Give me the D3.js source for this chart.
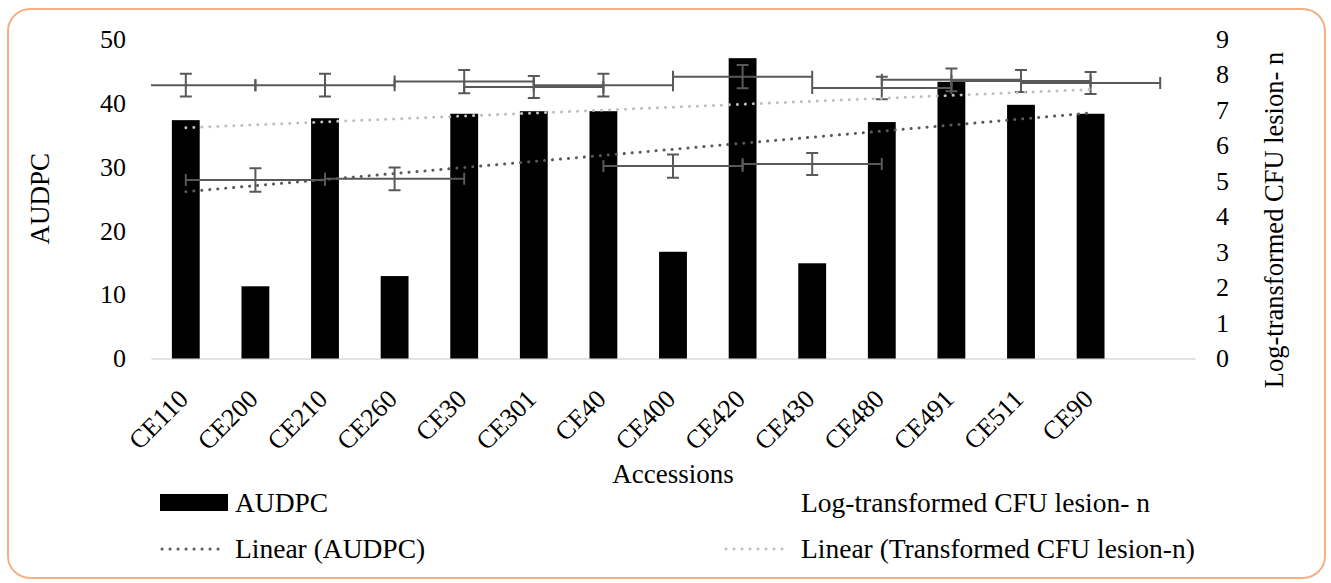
<!DOCTYPE html>
<html lang="en">
<head>
    <meta charset="UTF-8">
    <title>AUDPC vs CFU</title>
    <script src="https://cdn.jsdelivr.net/npm/d3@7"></script>
    <style>
        body{
            margin: 0;
            background-color: white;
        }
        text{
            font-family: "Liberation Serif", serif;
            fill: #000;
        }
        .axis text{
            font-size: 26px;
        }
        .title{
            font-size: 27px;
        }
        .legend text{
            font-size: 27.5px;
        }
        .errbar line{
            stroke: #595959;
            stroke-width: 2px;
        }
    </style>
</head>
<body>
<svg id="canvas" width="1331" height="583"></svg>
<script>
    // values
    const categories = ["CE110", "CE200", "CE210", "CE260", "CE30", "CE301", "CE40", "CE400", "CE420", "CE430", "CE480", "CE491", "CE511", "CE90"];
    const audpc = [37.3, 11.3, 37.6, 12.9, 38.3, 38.7, 38.7, 16.7, 47.0, 14.9, 37.0, 43.3, 39.7, 38.3];
    const cfuLog = [7.70, 5.03, 7.70, 5.06, 7.80, 7.65, 7.70, 5.42, 7.94, 5.48, 7.62, 7.85, 7.82, 7.76];
    const cfuErr = [0.32, 0.33, 0.32, 0.32, 0.33, 0.31, 0.32, 0.33, 0.33, 0.31, 0.32, 0.32, 0.31, 0.31];
    const cfuXErr = 1;   // horizontal error bars, one category each way
    const audpcTicks = [0, 10, 20, 30, 40, 50];
    const cfuTicks = [0, 1, 2, 3, 4, 5, 6, 7, 8, 9];

    let svg = d3.select('svg');

    // frame
    svg.append('rect')
        .attr('x', 8).attr('y', 9)
        .attr('width', 1317).attr('height', 569)
        .attr('rx', 22)
        .attr('fill', 'white')
        .attr('stroke', '#f4b183')
        .attr('stroke-width', 2);

    const pLeft = 151, pRight = 1195, pTop = 39, pBottom = 358.5;

    // an empty slot is kept at the end, like the original
    const slots = categories.concat([""]);
    const x = d3.scaleBand().domain(slots).range([pLeft, pRight]).paddingInner(0.6).paddingOuter(0.3);
    const xl = d3.scaleLinear().domain([0, slots.length]).range([pLeft, pRight]);
    const yL = d3.scaleLinear().domain([0, 50]).range([pBottom, pTop]);
    const yR = d3.scaleLinear().domain([0, 9]).range([pBottom, pTop]);

    svg.append('clipPath').attr('id', 'plotclip')
        .append('rect').attr('x', pLeft).attr('y', pTop - 20).attr('width', pRight - pLeft).attr('height', pBottom - pTop + 20);

    // x axis
    let xAxis = svg.append('g').attr('class', 'axis')
        .attr('transform', `translate(0,${pBottom})`)
        .call(d3.axisBottom(x).tickSize(0).tickSizeOuter(0));
    xAxis.select('.domain').attr('stroke', '#d9d9d9').attr('stroke-width', 1.5);
    xAxis.selectAll('text')
        .attr('text-anchor', 'end')
        .attr('y', 0).attr('dy', 0)
        .attr('transform', 'translate(4,42) rotate(-45)');
    xAxis.attr('font-family', null).attr('font-size', null);

    // left axis
    let yAxisL = svg.append('g').attr('class', 'axis')
        .attr('transform', `translate(${pLeft},0)`)
        .call(d3.axisLeft(yL).tickValues(audpcTicks).tickSize(0).tickPadding(25));
    yAxisL.select('.domain').remove();
    yAxisL.attr('font-family', null).attr('font-size', null);

    // right axis
    let yAxisR = svg.append('g').attr('class', 'axis')
        .attr('transform', `translate(${pRight},0)`)
        .call(d3.axisRight(yR).tickValues(cfuTicks).tickSize(0).tickPadding(21));
    yAxisR.select('.domain').remove();
    yAxisR.attr('font-family', null).attr('font-size', null);

    // bars
    svg.append('g').selectAll('rect')
        .data(audpc)
        .enter()
        .append('rect')
        .attr('x', (d, i) => x(categories[i]))
        .attr('y', d => yL(d))
        .attr('width', x.bandwidth())
        .attr('height', d => yL(0) - yL(d))
        .attr('fill', '#000');

    // error bars of the (hidden) CFU series
    let eb = svg.append('g').attr('class', 'errbar').attr('clip-path', 'url(#plotclip)')
        .selectAll('g')
        .data(cfuLog)
        .enter()
        .append('g');
    const cx = i => xl(i + 0.5);
    eb.append('line')   // horizontal
        .attr('x1', (d, i) => xl(i + 0.5 - cfuXErr)).attr('x2', (d, i) => xl(i + 0.5 + cfuXErr))
        .attr('y1', d => yR(d)).attr('y2', d => yR(d));
    eb.append('line')
        .attr('x1', (d, i) => xl(i + 0.5 - cfuXErr)).attr('x2', (d, i) => xl(i + 0.5 - cfuXErr))
        .attr('y1', d => yR(d) - 6).attr('y2', d => yR(d) + 6);
    eb.append('line')
        .attr('x1', (d, i) => xl(i + 0.5 + cfuXErr)).attr('x2', (d, i) => xl(i + 0.5 + cfuXErr))
        .attr('y1', d => yR(d) - 6).attr('y2', d => yR(d) + 6);
    eb.append('line')   // vertical
        .attr('x1', (d, i) => cx(i)).attr('x2', (d, i) => cx(i))
        .attr('y1', (d, i) => yR(d + cfuErr[i])).attr('y2', (d, i) => yR(d - cfuErr[i]));
    eb.append('line')
        .attr('x1', (d, i) => cx(i) - 6).attr('x2', (d, i) => cx(i) + 6)
        .attr('y1', (d, i) => yR(d + cfuErr[i])).attr('y2', (d, i) => yR(d + cfuErr[i]));
    eb.append('line')
        .attr('x1', (d, i) => cx(i) - 6).attr('x2', (d, i) => cx(i) + 6)
        .attr('y1', (d, i) => yR(d - cfuErr[i])).attr('y2', (d, i) => yR(d - cfuErr[i]));

    // least squares trend
    function fit(vals){
        let n = vals.length, xs = d3.range(1, n + 1);
        let mx = d3.mean(xs), my = d3.mean(vals);
        let b = d3.sum(xs, (xv, i) => (xv - mx) * (vals[i] - my)) / d3.sum(xs, xv => (xv - mx) * (xv - mx));
        return xv => my + b * (xv - mx);
    }
    function trend(vals, yScale, color){
        let f = fit(vals);
        let ends = [1, vals.length];
        svg.append('path')
            .datum(ends)
            .attr('d', d3.line().x(k => xl(k - 0.5)).y(k => yScale(f(k))))
            .attr('fill', 'none')
            .attr('stroke', color)
            .attr('stroke-width', 3)
            .attr('stroke-linecap', 'round')
            .attr('stroke-dasharray', '0.1 7.9');
    }
    trend(audpc, yL, '#595959');
    trend(cfuLog, yR, '#bfbfbf');

    // axis titles
    svg.append('text').attr('class', 'title')
        .attr('transform', `translate(49,${(pTop + pBottom) / 2}) rotate(-90)`)
        .attr('text-anchor', 'middle')
        .text('AUDPC');
    svg.append('text').attr('class', 'title')
        .attr('transform', `translate(1283,220) rotate(-90)`)
        .attr('text-anchor', 'middle')
        .style('font-size', '26.5px')
        .text('Log-transformed CFU lesion- n');
    svg.append('text').attr('class', 'title')
        .attr('x', (pLeft + pRight) / 2).attr('y', 483)
        .attr('text-anchor', 'middle')
        .text('Accessions');

    // legend
    let lg = svg.append('g').attr('class', 'legend');
    lg.append('rect').attr('x', 160).attr('y', 494).attr('width', 68).attr('height', 17).attr('fill', '#000');
    lg.append('text').attr('x', 235).attr('y', 512).text('AUDPC');
    lg.append('text').attr('x', 801).attr('y', 512).text('Log-transformed CFU lesion- n');
    lg.append('line').attr('x1', 162).attr('x2', 226).attr('y1', 549).attr('y2', 549)
        .attr('stroke', '#595959').attr('stroke-width', 3).attr('stroke-linecap', 'round').attr('stroke-dasharray', '0.1 7.9');
    lg.append('text').attr('x', 235).attr('y', 558).text('Linear (AUDPC)');
    lg.append('line').attr('x1', 726).attr('x2', 790).attr('y1', 549).attr('y2', 549)
        .attr('stroke', '#bfbfbf').attr('stroke-width', 3).attr('stroke-linecap', 'round').attr('stroke-dasharray', '0.1 7.9');
    lg.append('text').attr('x', 801).attr('y', 558).text('Linear (Transformed CFU lesion-n)');
</script>
</body>
</html>
